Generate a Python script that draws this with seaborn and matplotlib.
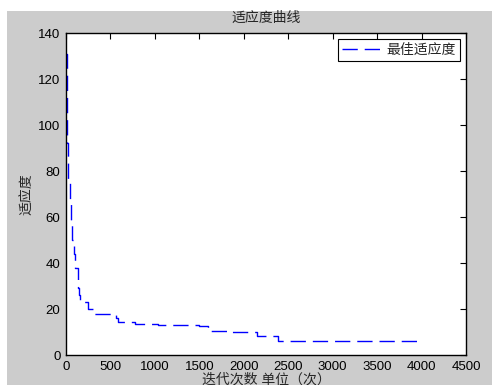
import pandas as pd
import matplotlib.pyplot as plt
from matplotlib.patches import Rectangle
import seaborn as sns

# best fitness per iteration (breakpoints of the staircase)
iterations = [0, 8, 26, 40, 55, 67, 85, 100, 139, 150, 157, 247, 304, 557, 589,
              776, 1035, 1500, 1600, 1811, 2145, 2389, 3953]
fitness = [131, 92, 76, 66, 58, 50, 44, 38, 29, 26, 23.2, 19.8, 17.8, 15.9, 14.2,
           13.6, 13.0, 12.6, 10.6, 10.0, 8.3, 5.9, 5.9]

data = pd.DataFrame({'iter': iterations, 'fit': fitness})

sns.set_style('white')
plt.rcParams['font.family'] = ['Liberation Sans', 'Noto Sans CJK SC']
plt.rcParams['axes.unicode_minus'] = False

fig = plt.figure(figsize=(4.92, 3.85), dpi=100, facecolor='white')
# grey matlab-like figure background
fig.add_artist(Rectangle((7 / 492, 0), 1, (385 - 11) / 385, transform=fig.transFigure,
                         facecolor='#cccccc', edgecolor='none', zorder=-10))
ax = fig.add_axes([66 / 492, 30 / 385, 400 / 492, 322 / 385])
ax.set_facecolor('white')

sns.lineplot(x='iter', y='fit', data=data, ax=ax, color='#0000ff', linewidth=1.0,
             drawstyle='steps-post', estimator=None, sort=False, label='最佳适应度',
             dashes=False)
ax.lines[0].set_dashes((11, 5))

# chart format
ax.set_xlim(0, 4500)
ax.set_ylim(0, 140)
ax.set_xticks(range(0, 4501, 500))
ax.set_yticks(range(0, 141, 20))
ax.tick_params(direction='in', length=4, width=0.8, colors='black', labelsize=9.5,
               top=True, right=True, pad=4)
for s in ax.spines.values():
    s.set_color('black')
    s.set_linewidth(1.0)

ax.set_title('适应度曲线', fontsize=10, pad=8)
ax.set_xlabel('迭代次数 单位（次）', fontsize=10)
ax.xaxis.set_label_coords(0.5, -0.054)
ax.set_ylabel('适应度', fontsize=10)
ax.yaxis.set_label_coords(-0.08, 0.5)

leg = ax.legend(loc='upper right', fontsize=10, frameon=True, fancybox=False,
                framealpha=1, edgecolor='black', handlelength=2.8,
                borderaxespad=0.4, borderpad=0.3, handletextpad=0.4)
leg.get_frame().set_linewidth(0.8)

plt.savefig('out.png', dpi=100)
